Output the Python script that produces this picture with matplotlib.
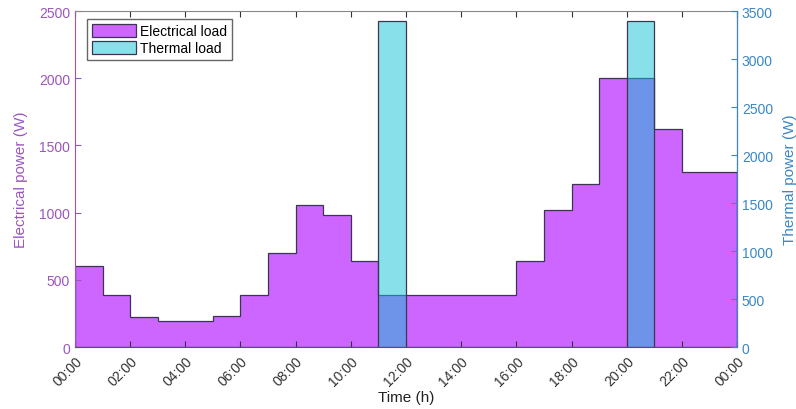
import numpy as np
import matplotlib
matplotlib.use("Agg")
from matplotlib import pyplot as plt
from matplotlib.patches import Patch

# hourly loads, value i covers hour i -> i+1
hours = np.arange(25)
electrical = [600, 390, 225, 190, 190, 230, 385, 700, 1060, 985, 640, 390,
              390, 390, 390, 390, 640, 1020, 1210, 2000, 2000, 1620, 1300, 1300]
thermal = [0, 0, 0, 0, 0, 0, 0, 0, 0, 0, 0, 3400,
           0, 0, 0, 0, 0, 0, 0, 0, 3400, 0, 0, 0]
tick_hours = np.arange(0, 25, 2)
tick_labels = ["%02d:00" % (h % 24) for h in tick_hours]

purple = "#9b55c0"
blue = "#3b86c6"
elec_face = "#cc66ff"
therm_face = (0.07, 0.76, 0.84, 0.5)
edge = "#3d3550"

plt.rcParams["font.family"] = ["Liberation Sans", "DejaVu Sans"]
plt.rcParams["font.size"] = 10

fig = plt.figure(figsize=(7.96, 4.10), dpi=100, facecolor="white")
ax = fig.add_axes([0.0942, 0.1512, 0.8317, 0.8195])

ax.stairs(electrical, hours, fill=True, color=elec_face)
ax.stairs(electrical, hours, color=edge, linewidth=0.9)
ax.set_xlim(0, 24)
ax.set_ylim(0, 2500)
ax.set_yticks(np.arange(0, 2501, 500))
ax.set_xticks(tick_hours)
ax.set_xticklabels(tick_labels, rotation=45, ha="right", rotation_mode="anchor")
ax.tick_params(axis="x", direction="in", top=True, length=4, colors="#333333",
               labelcolor="#333333", labelsize=10, pad=5)
ax.tick_params(axis="y", direction="in", length=4, colors=purple, labelsize=10)
ax.set_ylabel("Electrical power (W)", color=purple, fontsize=11, labelpad=8)
ax.set_xlabel("Time (h)", color="#222222", fontsize=11, labelpad=1)
ax.spines["left"].set_color(purple)
ax.spines["top"].set_color("#888888")
ax.spines["bottom"].set_color("#555555")

ax2 = ax.twinx()
ax2.bar(hours[:-1] + 0.5, thermal, width=1.0, facecolor=therm_face,
        edgecolor=edge, linewidth=0.9)
ax2.set_ylim(0, 3500)
ax2.set_yticks(np.arange(0, 3501, 500))
ax2.tick_params(axis="y", direction="in", length=4, colors=blue, labelsize=10)
ax2.set_ylabel("Thermal power (W)", color=blue, fontsize=11, labelpad=7)
ax2.spines["right"].set_color(blue)
for s in ("left", "top", "bottom"):
    ax2.spines[s].set_visible(False)

handles = [Patch(facecolor=elec_face, edgecolor=edge, linewidth=0.9),
           Patch(facecolor=therm_face, edgecolor=edge, linewidth=0.9)]
ax2.legend(handles, ["Electrical load", "Thermal load"], loc="upper left",
           bbox_to_anchor=(0.018, 0.975), borderaxespad=0, fancybox=False,
           edgecolor="#666666", framealpha=1, fontsize=10, handlelength=3.2,
           handleheight=1.0, labelspacing=0.2, handletextpad=0.3,
           borderpad=0.35)

fig.savefig("out.png", dpi=100)
